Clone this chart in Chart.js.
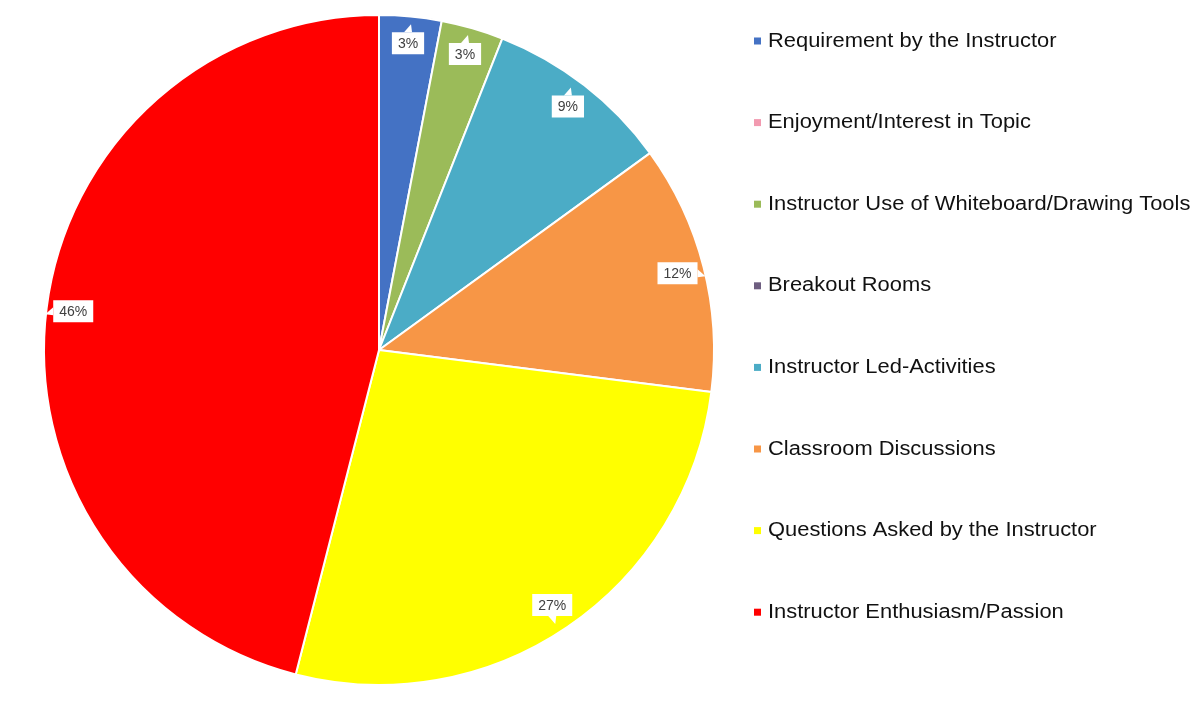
<!DOCTYPE html>
<html>
<head>
<meta charset="utf-8">
<script src="https://cdn.jsdelivr.net/npm/chart.js@4"></script>
<style>
    body { margin: 0; background: #fff; }
    #wrap { width: 1201px; height: 703px; }
</style>
</head>
<body>
<div id="wrap"><canvas id="pie-chart" width="1201" height="703"></canvas></div>
<script>
const categories = [
    'Requirement by the Instructor',
    'Enjoyment/Interest in Topic',
    'Instructor Use of Whiteboard/Drawing Tools',
    'Breakout Rooms',
    'Instructor Led-Activities',
    'Classroom Discussions',
    'Questions Asked by the Instructor',
    'Instructor Enthusiasm/Passion'
];
const percentages = [3, 0, 3, 0, 9, 12, 27, 46];
const sliceColors = ['#4472C4', '#F29AB0', '#9BBB59', '#6E5E80', '#4BACC6', '#F79646', '#FFFF00', '#FF0000'];


/* ============================== PLUGINS ============================== */
// callout boxes with the percentage, near the outer edge of each slice
const calloutPlugin = {
    id: 'calloutPlugin',
    afterDatasetsDraw(chart) {
        const { ctx } = chart;
        const meta = chart.getDatasetMeta(0);
        ctx.save();
        ctx.font = '14px "Liberation Sans", Arial, sans-serif';
        ctx.textAlign = 'center';
        ctx.textBaseline = 'middle';
        meta.data.forEach((arc, i) => {
            const v = percentages[i];
            if (!v) return;
            const p = arc.getProps(['x', 'y', 'startAngle', 'endAngle', 'outerRadius'], true);
            const mid = (p.startAngle + p.endAngle) / 2;
            const cos = Math.cos(mid), sin = Math.sin(mid);
            const cx = p.x + cos * p.outerRadius * 0.92;
            const cy = p.y + sin * p.outerRadius * 0.92;
            const txt = v + '%';
            const w = ctx.measureText(txt).width + 12;
            const h = 22;
            const l = cx - w / 2, t = cy - h / 2;

            ctx.fillStyle = '#fff';
            ctx.beginPath();
            ctx.rect(l, t, w, h);
            ctx.fill();

            // little pointer toward the edge of the pie
            ctx.beginPath();
            if (Math.abs(cos) > Math.abs(sin)) {
                const sx = cos > 0 ? l + w : l;
                ctx.moveTo(sx, cy - 4);
                ctx.lineTo(sx + Math.sign(cos) * 8, cy + 3);
                ctx.lineTo(sx, cy + 4);
            } else {
                const sy = sin > 0 ? t + h : t;
                ctx.moveTo(cx - 4, sy);
                ctx.lineTo(cx + 3, sy + Math.sign(sin) * 8);
                ctx.lineTo(cx + 4, sy);
            }
            ctx.fill();

            ctx.fillStyle = '#404040';
            ctx.fillText(txt, cx, cy + 1);
        });
        ctx.restore();
    }
};

// legend drawn on the right side (text is a bit wide in the original)
const sideLegend = {
    id: 'sideLegend',
    afterDraw(chart) {
        const { ctx } = chart;
        ctx.save();
        ctx.font = '20px "Liberation Sans", Arial, sans-serif';
        ctx.textBaseline = 'middle';
        ctx.textAlign = 'left';
        categories.forEach((name, i) => {
            const y = 41 + i * 81.6;
            ctx.fillStyle = sliceColors[i];
            ctx.fillRect(754, y - 3.5, 7, 7);
            ctx.save();
            ctx.translate(768, y);
            ctx.scale(1.095, 1);
            ctx.fillStyle = '#111';
            ctx.fillText(name, 0, 0);
            ctx.restore();
        });
        ctx.restore();
    }
};


/* ============================== GRAPH ============================== */
function pieChart() {
    const ctx = document.getElementById('pie-chart').getContext('2d');

    new Chart(ctx, {
        type: 'pie',
        data: {
            labels: categories,
            datasets: [{
                data: percentages,
                backgroundColor: sliceColors,
                borderColor: '#ffffff',
                borderWidth: 2
            }]
        },
        options: {
            responsive: false,
            animation: false,
            layout: { padding: { left: 43, right: 486, top: 14, bottom: 17 } },
            plugins: {
                legend: { display: false },
                tooltip: { enabled: false }
            }
        },
        plugins: [calloutPlugin, sideLegend]
    });
}

pieChart();
</script>
</body>
</html>
